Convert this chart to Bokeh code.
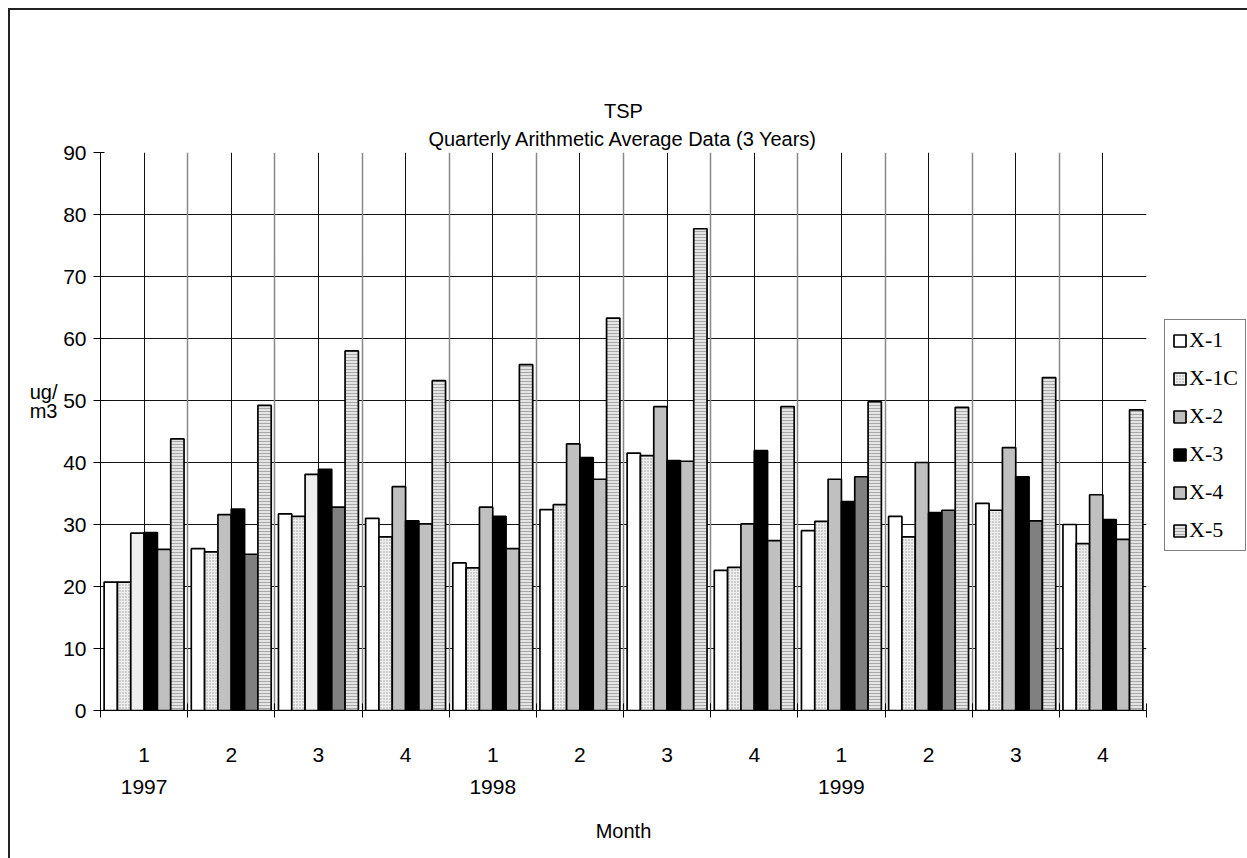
from bokeh.plotting import figure
from bokeh.models import (Range1d, FixedTicker, LinearAxis, Legend, LegendItem, Title,
                          ColumnDataSource, Grid)
from bokeh.embed import file_html
from bokeh.resources import INLINE

# ---- data ----
quarters = ["1", "2", "3", "4", "1", "2", "3", "4", "1", "2", "3", "4"]
years = ["1997", "1998", "1999"]
series_names = ["X-1", "X-1C", "X-2", "X-3", "X-4", "X-5"]
x1 = [20.7, 26.1, 31.7, 31.0, 23.8, 32.4, 41.5, 22.6, 29.0, 31.3, 33.4, 30.0]
x1c = [20.7, 25.6, 31.3, 28.0, 23.0, 33.2, 41.1, 23.1, 30.5, 28.0, 32.3, 26.9]
x2 = [28.6, 31.6, 38.1, 36.1, 32.8, 43.0, 49.0, 30.1, 37.3, 40.0, 42.4, 34.8]
x3 = [28.7, 32.5, 38.9, 30.6, 31.3, 40.8, 40.3, 41.9, 33.7, 31.9, 37.7, 30.8]
x4 = [26.0, 25.2, 32.8, 30.1, 26.1, 37.3, 40.2, 27.4, 37.7, 32.3, 30.6, 27.6]
x5 = [43.8, 49.2, 58.0, 53.2, 55.8, 63.3, 77.7, 49.0, 49.8, 48.9, 53.7, 48.5]
series_values = [x1, x1c, x2, x3, x4, x5]
y_title_lines = ["ug/", "m3"]
title_lines = ["TSP", "Quarterly Arithmetic Average Data (3 Years)"]

# ---- styles ----
LT, MD, DK = "#eeeeee", "#c0c0c0", "#808080"
x2_fill = [LT, MD, LT, MD, MD, MD, MD, MD, MD, MD, MD, MD]
x4_fill = [MD, DK, DK, MD, MD, MD, MD, MD, DK, DK, DK, MD]
fills = [["white"] * 12, ["#eeeeee"] * 12, x2_fill, ["black"] * 12, x4_fill, ["#e4e4e4"] * 12]
hatches = [None, "dot", None, None, None, "horizontal_line"]
legend_index = [0, 0, 1, 0, 0, 0]

FONT = "Liberation Sans"
n = len(quarters)
OFF = 10  # page offset of the canvas (outer chart frame drawn as CSS border)
p = figure(width=1247 - OFF, height=858 - OFF, x_range=Range1d(0, n), y_range=Range1d(0, 90),
           output_backend="svg", toolbar_location=None,
           frame_width=1046, frame_height=558,
           min_border_left=100 - OFF, min_border_right=101, min_border_top=152 - OFF,
           min_border_bottom=148)
p.margin = (8, 0, 0, 8)
p.styles = {"border-left": "2px solid #222222", "border-top": "2px solid #222222"}
p.outline_line_color = None
p.background_fill_color = "white"
p.border_fill_color = "white"

# grids
p.ygrid.ticker = FixedTicker(ticks=list(range(0, 91, 10)))
p.ygrid.grid_line_color = "#111111"
p.ygrid.grid_line_width = 1
centers = [i + 0.5 for i in range(n)]
p.xgrid.ticker = FixedTicker(ticks=centers)
p.xgrid.grid_line_color = "#111111"
p.xgrid.grid_line_width = 1
bgrid = Grid(dimension=0, ticker=FixedTicker(ticks=list(range(n + 1))),
             grid_line_color="#888888", grid_line_width=1.5)
p.add_layout(bgrid)

# bars
cluster = 0.917
w = cluster / 6
start = (1 - cluster) / 2
items = []
for j, (name, vals) in enumerate(zip(series_names, series_values)):
    xs = [i + start + w * (j + 0.5) for i in range(n)]
    src = ColumnDataSource(dict(x=xs, top=vals, fill=fills[j]))
    kw = {}
    if hatches[j] == "dot":
        kw = dict(hatch_pattern="dot", hatch_scale=3, hatch_color="#9a9a9a", hatch_weight=1)
    elif hatches[j] == "horizontal_line":
        kw = dict(hatch_pattern="horizontal_line", hatch_scale=3, hatch_color="#a8a8a8", hatch_weight=1)
    r = p.vbar(x="x", top="top", bottom=0, width=w, source=src, fill_color="fill",
               line_color="black", line_width=1.7, **kw)
    items.append(LegendItem(label=name, renderers=[r], index=legend_index[j]))

legend = Legend(items=items, location=(18, 159), orientation="vertical",
                glyph_width=15, glyph_height=15, label_standoff=2, padding=7,
                spacing=12, label_height=25, margin=0,
                label_text_font="Liberation Serif", label_text_font_size="22px",
                label_text_color="black",
                border_line_color="black", border_line_width=1,
                background_fill_color="white", background_fill_alpha=1)
p.add_layout(legend, "right")

# y axis
yax = p.yaxis[0]
yax.ticker = FixedTicker(ticks=list(range(0, 91, 10)))
yax.major_tick_out = 7
yax.major_tick_in = 4
yax.minor_tick_line_color = None
yax.major_label_text_font = FONT
yax.major_label_text_font_size = "21px"
yax.major_label_text_color = "black"
yax.major_label_standoff = 7
yax.axis_line_color = "black"
yax.major_tick_line_color = "black"

# y title as two horizontal lines placed through an extra left axis
yt_ticks = [51.4, 48.3]
ytax = LinearAxis(ticker=FixedTicker(ticks=yt_ticks),
                  major_label_overrides={t: s for t, s in zip(yt_ticks, y_title_lines)},
                  axis_line_color=None, major_tick_line_color=None, minor_tick_line_color=None,
                  major_tick_out=0, major_tick_in=0,
                  major_label_text_font=FONT, major_label_text_font_size="20px",
                  major_label_text_color="black", major_label_standoff=3)
p.add_layout(ytax, "left")

# x axis: quarter labels
xax = p.xaxis[0]
xax.ticker = FixedTicker(ticks=centers, minor_ticks=list(range(n + 1)))
xax.major_label_overrides = {c: q for c, q in zip(centers, quarters)}
xax.major_tick_out = 0
xax.major_tick_in = 0
xax.minor_tick_out = 7
xax.minor_tick_in = 7
xax.minor_tick_line_color = "black"
xax.major_label_text_font = FONT
xax.major_label_text_font_size = "21px"
xax.major_label_text_color = "black"
xax.major_label_standoff = 30
xax.axis_line_color = "black"

# x axis: years
year_ticks = [0.5, 4.5, 8.5]
yrax = LinearAxis(ticker=FixedTicker(ticks=year_ticks),
                  major_label_overrides={t: y for t, y in zip(year_ticks, years)},
                  axis_line_color=None, major_tick_line_color=None, minor_tick_line_color=None,
                  major_tick_out=0, major_tick_in=0,
                  major_label_text_font=FONT, major_label_text_font_size="21px",
                  major_label_text_color="black", major_label_standoff=15,
                  axis_label="Month", axis_label_text_font=FONT,
                  axis_label_text_font_size="20px", axis_label_text_font_style="normal",
                  axis_label_text_color="black", axis_label_standoff=23)
p.add_layout(yrax, "below")

# title: two centred lines (the one nearest the frame is added first)
tstyle = dict(align="center", text_font=FONT, text_font_size="20px",
              text_font_style="normal", text_color="black")
p.add_layout(Title(text=title_lines[1], standoff=6, **tstyle), "above")
p.add_layout(Title(text=title_lines[0], standoff=2, **tstyle), "above")

open("out.html", "w").write(file_html(p, INLINE))
